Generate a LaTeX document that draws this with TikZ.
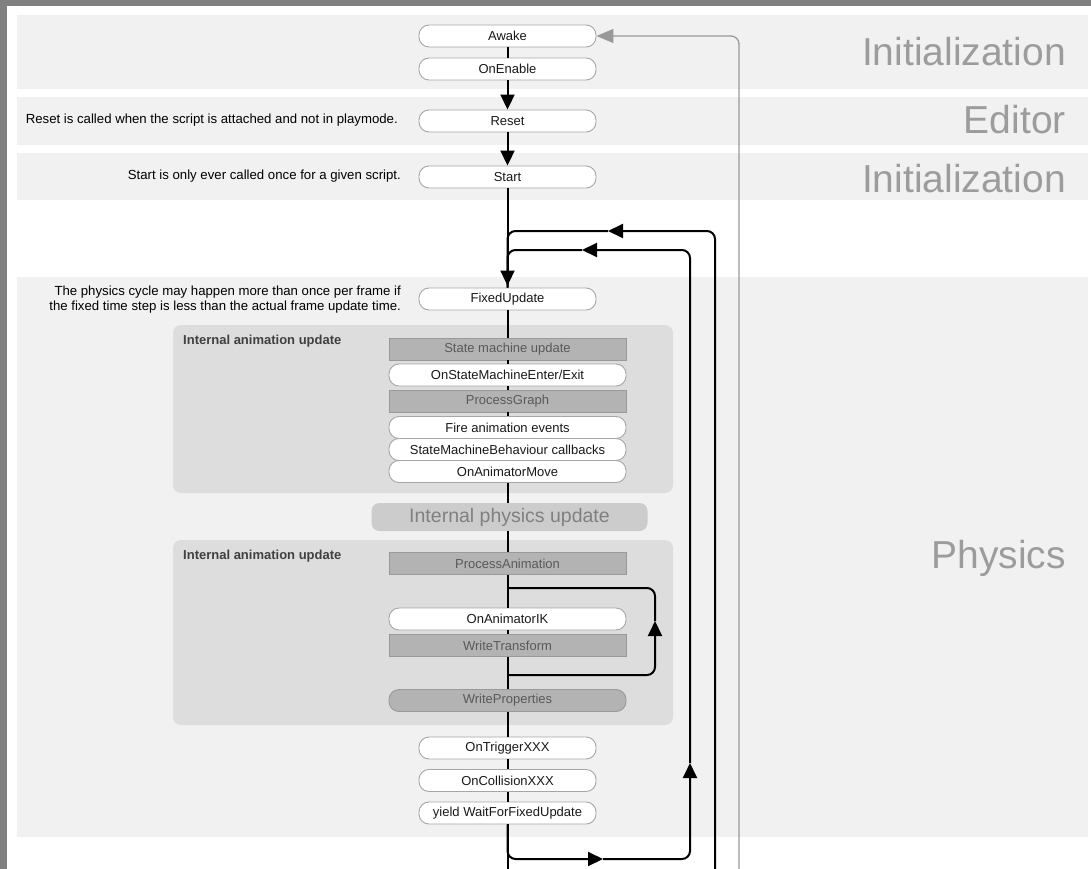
\documentclass[tikz,border=0pt]{standalone}
\usepackage{fontspec}
\setmainfont{Liberation Sans}
\usetikzlibrary{arrows.meta}
\definecolor{bandgray}{HTML}{F1F1F1}
\definecolor{panelgray}{HTML}{DDDDDD}
\definecolor{stagegray}{HTML}{B3B3B3}
\definecolor{framegray}{HTML}{808080}
\definecolor{labelgray}{HTML}{9C9C9C}
\def\trunkx{507.5}

\begin{document}
\begin{tikzpicture}[x=1pt,y=-1pt,>={Triangle[length=15pt,width=14pt]}]
	\tikzstyle{band}=[fill=bandgray]
	\tikzstyle{panel}=[fill=panelgray,rounded corners=8pt]
	\tikzstyle{event}=[draw=black!35,line width=0.9pt,fill=white,rounded corners=10pt,minimum width=177pt,minimum height=22pt,inner sep=0pt,font=\fontsize{13}{15}\selectfont,text=black!90]
	\tikzstyle{anim event}=[event,minimum width=237pt]
	\tikzstyle{stagebox}=[anim event,sharp corners,fill=stagegray,draw=black!40,text=black!65]
	\tikzstyle{phase}=[anchor=base east,inner sep=0pt,font=\fontsize{39}{44}\selectfont,text=labelgray]
	\tikzstyle{note}=[anchor=east,align=right,inner sep=0pt,font=\fontsize{13.2}{15}\selectfont]
	\tikzstyle{panel title}=[anchor=north west,inner sep=0pt,font=\bfseries\fontsize{13}{15}\selectfont,text=black!75]
	\tikzstyle{flow}=[line width=2pt,rounded corners=8pt]

	\useasboundingbox (0,0) rectangle (1091,869);

	% Frame and phase bands
	\fill[framegray] (0,0) rectangle (1091,6);
	\fill[framegray] (0,0) rectangle (7,869);
	\foreach \top/\bot in {15/89,97/145,153/200,277/837}
		\fill[band] (17,\top) rectangle (1088,\bot);
	\foreach \top/\bot in {325/493,540/725}
		\fill[panel] (173,\top) rectangle (673,\bot);

	% Phase labels
	\node[phase] (initA) at (1066,66) {Initialization};
	\node[phase] (editor) at (1066,134) {Editor};
	\node[phase] (initB) at (1066,192) {Initialization};
	\node[phase] (physics) at (1066,568) {Physics};

	% Notes
	\node[note] (resetnote) at (398,120.5) {Reset is called when the script is attached and not in playmode.};
	\node[note] (startnote) at (401,176) {Start is only ever called once for a given script.};
	\node[note] (physnote) at (401,299.5) {The physics cycle may happen more than once per frame if\\the fixed time step is less than the actual frame update time.};

	% Draw the script events
	\foreach \name/\txt/\y in {Awake/Awake/36,OnEnable/OnEnable/69,Reset/Reset/121,Start/Start/177,FixedUpdate/FixedUpdate/299,OnTrigger/OnTriggerXXX/748,OnCollision/OnCollisionXXX/780.5,WaitFixed/yield WaitForFixedUpdate/813}
		\node[event] (\name) at (\trunkx,\y) {\txt};

	% Internal animation update
	\node[panel title] (animA) at (183,334.5) {Internal animation update};
	\node[panel title] (animB) at (183,549.5) {Internal animation update};
	\foreach \name/\txt/\y in {SMUpdate/State machine update/349,ProcessGraph/ProcessGraph/401,ProcessAnimation/ProcessAnimation/563.5,WriteTransform/WriteTransform/645.5}
		\node[stagebox] (\name) at (\trunkx,\y) {\txt};
	\foreach \name/\txt/\y in {SMEnter/{OnStateMachineEnter/Exit}/375,FireEvents/Fire animation events/427.5,SMBCallbacks/StateMachineBehaviour callbacks/449.5,AnimMove/OnAnimatorMove/471.5,AnimIK/OnAnimatorIK/619}
		\node[anim event] (\name) at (\trunkx,\y) {\txt};
	\node[stagebox,rounded corners=10pt] (WriteProperties) at (\trunkx,700.5) {WriteProperties};
	\node[fill=black!20,rounded corners=8pt,minimum width=276pt,minimum height=28pt,inner sep=0pt,font=\fontsize{19.5}{22}\selectfont,text=black!50] (physupd) at (509.5,517) {Internal physics update};

	% Connect the events
	\foreach \a/\b in {Awake/OnEnable,FixedUpdate/SMUpdate,SMUpdate/SMEnter,SMEnter/ProcessGraph,ProcessGraph/FireEvents,AnimMove/physupd,physupd/ProcessAnimation,ProcessAnimation/AnimIK,AnimIK/WriteTransform,WriteTransform/WriteProperties,WriteProperties/OnTrigger,OnTrigger/OnCollision,OnCollision/WaitFixed}
		\draw[flow] (\a.south -| Awake) -- (\b.north -| Awake);
	\foreach \a/\b in {OnEnable/Reset,Reset/Start}
		\draw[flow,->] (\a) -- (\b);
	\draw[flow,->,shorten >=2pt] (Start) -- (FixedUpdate);

	% IK loop
	\coordinate (ikBottom) at (\trunkx,675);
	\coordinate (ikArrow) at (655,621);
	\coordinate (ikTop) at (\trunkx,588);
	\draw[flow,->] (ikBottom) -| (ikArrow);
	\draw[flow] (ikArrow) |- (ikTop);

	% Physics loop
	\coordinate (trunkExit) at (\trunkx,869);
	\coordinate (fixedArrowBot) at (603,859);
	\coordinate (fixedArrowUp) at (690,763);
	\coordinate (fixedArrowTop) at (582,250);
	\draw[flow] (WaitFixed) -- (trunkExit);
	\draw[flow,->] (WaitFixed.south) |- (fixedArrowBot);
	\draw[flow,->] (fixedArrowBot) -| (fixedArrowUp);
	\draw[flow,->] (fixedArrowUp) |- (fixedArrowTop);
	\draw[flow] (fixedArrowTop) -| (FixedUpdate.north);

	% Frame loop
	\coordinate (frameExit) at (715,869);
	\coordinate (frameArrow) at (608,231);
	\draw[flow,->] (frameExit) |- (frameArrow);
	\draw[flow] (frameArrow) -| (FixedUpdate.north);

	% Back to Awake
	\coordinate (awakeExit) at (739,869);
	\draw[line width=1.3pt,black!40,rounded corners=8pt,->,>={Triangle[length=17pt,width=14pt]}] (awakeExit) |- (Awake.east);
\end{tikzpicture}
\end{document}
